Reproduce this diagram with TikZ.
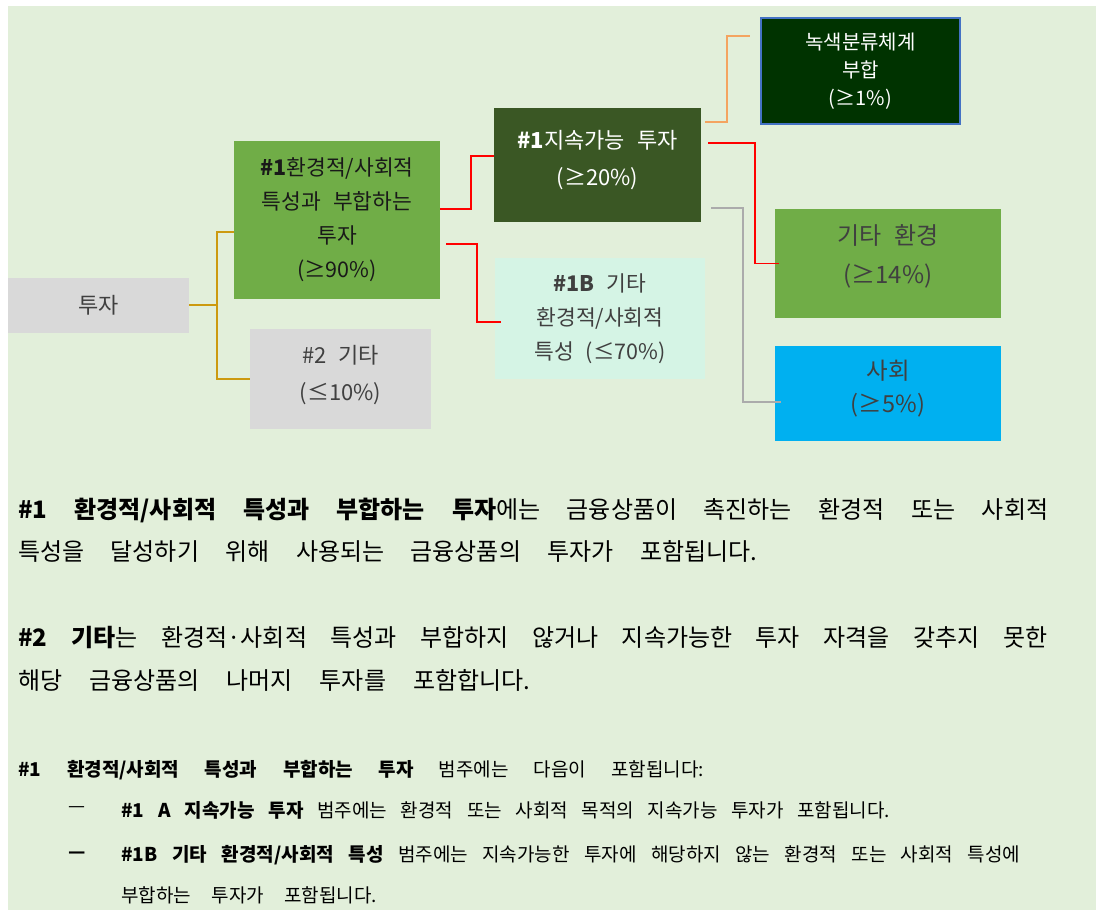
\documentclass[tikz,border=0pt]{standalone}
\usepackage{fontspec}
\setmainfont{Noto Sans CJK KR}

\definecolor{bggreen}{HTML}{E2EFDA}
\definecolor{boxgray}{HTML}{D9D9D9}
\definecolor{textgray}{HTML}{404040}
\definecolor{leafgreen}{HTML}{70AD47}
\definecolor{darkgreen}{HTML}{3A5724}
\definecolor{taxogreen}{HTML}{003300}
\definecolor{taxoblue}{HTML}{4472C4}
\definecolor{mint}{HTML}{D5F4E5}
\definecolor{skyblue}{HTML}{00B0F0}
\definecolor{goldline}{HTML}{CC9A10}
\definecolor{orangeline}{HTML}{F4A460}
\definecolor{grayline}{HTML}{ABABAB}

% stretch one line of text to a given width
\newcommand{\fitline}[2]{\makebox[#1][s]{#2}}
% font size with baselineskip and wider word spaces
\newcommand{\boxfont}[2]{\fontsize{#1}{#2}\selectfont\spaceskip=0.55em plus 0.1em\relax}
% extra depth under the last line, lifts the text in its box
\newcommand{\lift}[1]{\rule[-#1]{0pt}{#1}}

\begin{document}
\begin{tikzpicture}[x=1pt, y=-1pt,
    box/.style={inner sep=0pt, align=center, font=\boxfont{22}{35}},
    link/.style={line width=1.6pt},
    para/.style={inner sep=0pt, anchor=west, font=\fontsize{24}{28}\selectfont},
    small/.style={inner sep=0pt, anchor=west, font=\fontsize{19}{22}\selectfont}]

    \useasboundingbox (0,0) rectangle (1103,910);
    \fill[white] (0,0) rectangle (1103,910);
    \fill[bggreen] (8,6) rectangle (1096,910);

    % Investment
    \node[box, fill=boxgray, text=textgray, minimum width=181pt, minimum height=55pt] (invest) at (98.5,305) {투자};

    % #1 aligned with E/S characteristics
    \node[box, fill=leafgreen, text=black!90, minimum width=206pt, minimum height=158pt, font=\boxfont{21.5}{34}] (esg) at (337,220)
        {\textbf{\#1}환경적/사회적\\특성과 부합하는\\투자\\(≥90\%)};

    % #2 other
    \node[box, fill=boxgray, text=textgray, minimum width=181pt, minimum height=100pt, font=\boxfont{22}{37}] (other) at (340.5,379)
        {\#2 기타\\(≤10\%)\lift{13pt}};

    % #1A sustainable
    \node[box, fill=darkgreen, text=white, minimum width=207pt, minimum height=114pt, font=\boxfont{22}{37}] (sust) at (597.5,165)
        {\textbf{\#1}지속가능 투자\\(≥20\%)\lift{14pt}};

    % #1B other E/S characteristics
    \node[box, fill=mint, text=textgray, minimum width=210pt, minimum height=121pt, font=\boxfont{21.5}{34}] (esgb) at (600,318.5)
        {\textbf{\#1B} 기타\\환경적/사회적\\특성 (≤70\%)};

    % taxonomy-aligned
    \node[box, fill=taxogreen, draw=taxoblue, line width=1.2pt, text=white, minimum width=199pt, minimum height=106pt, font=\boxfont{20}{28}] (taxo) at (860.5,71)
        {녹색분류체계\\부합\\(≥1\%)};

    % other environmental
    \node[box, fill=leafgreen, text=textgray, minimum width=226pt, minimum height=109pt, font=\boxfont{24}{39}] (envo) at (888,263.5)
        {기타 환경\\(≥14\%)\lift{19pt}};

    % social
    \node[box, fill=skyblue, text=textgray, minimum width=226pt, minimum height=95pt, font=\boxfont{23.5}{33}] (social) at (888,393.5)
        {사회\\(≥5\%)\lift{14pt}};

    % connectors
    \draw[link, goldline] (invest.east) -- ++(28,0) coordinate (fork) |- ([yshift=-12pt]esg.west);
    \draw[link, goldline] (fork) |- (other.west);
    \draw[link, red] ([yshift=11pt]esg.east) -- ++(31,0) |- ([yshift=9pt]sust.west);
    \draw[link, red] ([xshift=6pt,yshift=-24pt]esg.east) -- ++(31,0) |- ([xshift=6pt,yshift=-3.5pt]esgb.west);
    \draw[link, orangeline] ([xshift=4pt,yshift=43pt]sust.east) -- ++(22,0) |- ([xshift=-10pt,yshift=35pt]taxo.west);
    \draw[link, red] ([xshift=7pt,yshift=22pt]sust.east) -- ++(47,0) |- ([xshift=4pt]envo.west);
    \draw[link, grayline] ([xshift=10pt,yshift=-43pt]sust.east) -- ++(32,0) |- ([xshift=6pt,yshift=-8.5pt]social.west);

    % explanation paragraphs
    \node[para] (p1a) at (18,510) {\fitline{1030pt}{\textbf{\#1 환경적/사회적 특성과 부합하는 투자}에는 금융상품이 촉진하는 환경적 또는 사회적}};
    \node[para] (p1b) at (18,551) {\fitline{739pt}{특성을 달성하기 위해 사용되는 금융상품의 투자가 포함됩니다.}};
    \node[para] (p2a) at (18,638) {\fitline{1029pt}{\textbf{\#2 기타}는 환경적·사회적 특성과 부합하지 않거나 지속가능한 투자 자격을 갖추지 못한}};
    \node[para] (p2b) at (18,680) {\fitline{512pt}{해당 금융상품의 나머지 투자를 포함합니다.}};

    % category list
    \node[small] (cat) at (18,770) {\fitline{686pt}{\textbf{\#1 환경적/사회적 특성과 부합하는 투자} 범주에는 다음이 포함됩니다:}};
    \node[small] (dasha) at (68,810) {—};
    \node[small] (cata) at (121,810) {\fitline{769pt}{\textbf{\#1 A 지속가능 투자} 범주에는 환경적 또는 사회적 목적의 지속가능 투자가 포함됩니다.}};
    \node[small] (dashb) at (68,855) {\textbf{—}};
    \node[small] (catb) at (121,855) {\fitline{899pt}{\textbf{\#1B 기타 환경적/사회적 특성} 범주에는 지속가능한 투자에 해당하지 않는 환경적 또는 사회적 특성에}};
    \node[small] (catc) at (121,895) {\fitline{256pt}{부합하는 투자가 포함됩니다.}};

\end{tikzpicture}
\end{document}
